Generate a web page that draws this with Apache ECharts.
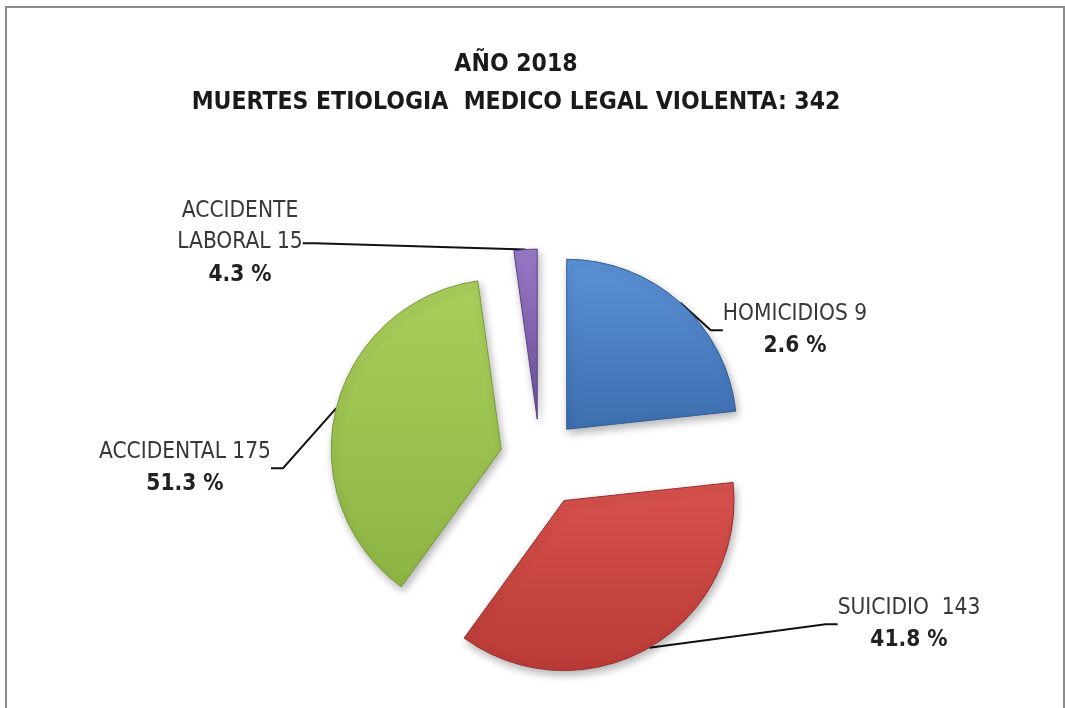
<!DOCTYPE html>
<html>
<head>
<meta charset="utf-8">
<script src="https://cdn.jsdelivr.net/npm/echarts@6/dist/echarts.min.js"></script>
<style>
  html, body { margin: 0; padding: 0; background: #fff; }
  #chart-wrap { width: 1065px; height: 708px; }
  #frame { position: absolute; left: 5px; top: 6px; width: 1056px; height: 740px;
           border: 2px solid #8c8c8c; pointer-events: none; }
</style>
</head>
<body>
<div id="chart-wrap"></div>
<div id="frame"></div>
<script>
// etiquetas tal como aparecen en el grafico
var names = ['HOMICIDIOS', 'SUICIDIO ', 'ACCIDENTAL', 'ACCIDENTE\nLABORAL'];
var counts = [9, 143, 175, 15];
var percents = ['2.6', '41.8', '51.3', '4.3'];
// tamano de cada porcion medido sobre la imagen (angulo / 360 * 100)
var sliceShare = [23.3, 36.7, 37.8, 2.2];

var font = "'DejaVu Sans Condensed', 'Liberation Sans Narrow', sans-serif";

var colors = [
  ['#5a92d6', '#3d6eb0', '#2f5b94'],
  ['#d8524e', '#b93a36', '#9a2e2b'],
  ['#a9ce5c', '#8db443', '#779a36'],
  ['#977ac6', '#6f519e', '#5b4085']
];
var center = [540, 459];
var explode = [40, 48, 40, 40];
// posicion del centro de cada etiqueta
var labelPos = [[795, 331], [909, 625], [185, 469], [240, 244]];

var total = 0;
for (var i = 0; i < sliceShare.length; i++) total += sliceShare[i];

// una serie por porcion, para poder separarla del centro
var series = [];
var acc = 0;
for (var i = 0; i < sliceShare.length; i++) {
  var mid = (acc + sliceShare[i] / 2) / total * Math.PI * 2;
  acc += sliceShare[i];
  var data = [];
  for (var j = 0; j < sliceShare.length; j++) {
    if (j === i) {
      data.push({
        name: names[j],
        value: sliceShare[j],
        itemStyle: {
          color: new echarts.graphic.LinearGradient(0, 0, 0, 1, [
            { offset: 0, color: colors[j][0] },
            { offset: 1, color: colors[j][1] }
          ]),
          borderColor: colors[j][2],
          borderWidth: 1,
          shadowBlur: 8,
          shadowOffsetX: 2,
          shadowOffsetY: 4,
          shadowColor: 'rgba(0,0,0,0.3)'
        }
      });
    } else {
      data.push({
        name: names[j],
        value: sliceShare[j],
        itemStyle: { color: 'rgba(0,0,0,0)', borderWidth: 0 },
        label: { show: false },
        labelLine: { show: false }
      });
    }
  }
  series.push({
    type: 'pie',
    center: [center[0] + explode[i] * Math.sin(mid), center[1] - explode[i] * Math.cos(mid)],
    radius: 170,
    startAngle: 90,
    clockwise: true,
    silent: true,
    label: {
      show: true,
      position: 'outside',
      fontFamily: font,
      formatter: function (p) {
        var k = p.dataIndex;
        return '{n|' + names[k].split('\n').join('}\n{n|') + ' ' + counts[k] + '}\n{p|' + percents[k] + ' %}';
      },
      rich: {
        n: { fontFamily: font, fontSize: 22.5, lineHeight: 31, color: '#383838', align: 'center' },
        p: { fontFamily: font, fontSize: 22.5, lineHeight: 34, color: '#222', fontWeight: 'bold', align: 'center' }
      }
    },
    labelLine: {
      show: true,
      length: 20,
      length2: 12,
      lineStyle: { color: '#111', width: 2 }
    },
    labelLayout: function (params) {
      var p = labelPos[params.dataIndex];
      return { x: p[0], y: p[1], align: 'center', verticalAlign: 'middle' };
    },
    data: data
  });
}

var myChart = echarts.init(document.getElementById('chart-wrap'));
var option = {
  animation: false,
  title: {
    text: 'AÑO 2018\nMUERTES ETIOLOGIA  MEDICO LEGAL VIOLENTA: 342',
    left: 511,
    top: 41,
    textAlign: 'center',
    textStyle: {
      fontFamily: font,
      fontWeight: 'bold',
      fontSize: 24.5,
      lineHeight: 38,
      color: '#1a1a1a'
    }
  },
  series: series
};
myChart.setOption(option);
</script>
</body>
</html>
